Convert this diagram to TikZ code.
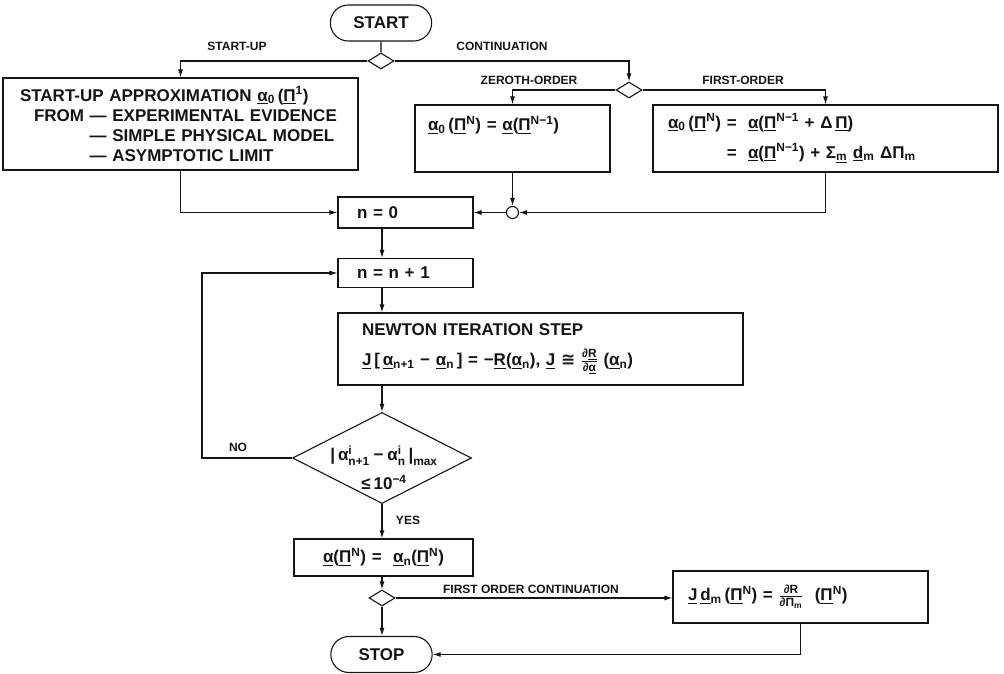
\documentclass[tikz,border=0pt]{standalone}
\usepackage{amsmath}
\usepackage{fontspec}
\setmainfont{Liberation Sans}
\newfontfamily\relfont{DejaVu Sans}
\usetikzlibrary{arrows.meta, shapes.geometric, shapes.misc, calc}
\definecolor{fcInk}{HTML}{141414}
\newcommand{\ua}{\underline{α}}
\newcommand{\uP}{\underline{Π}}
\newcommand{\lo}[1]{\textsubscript{#1}}
\newcommand{\hi}[1]{\textsuperscript{#1}}
\newcommand{\boxfont}{\fontsize{17}{20}\selectfont\bfseries}
\tikzset{
  fcbox/.style={
    draw=fcInk, line width=1.1pt, inner ysep=0pt, align=left,
    font=\boxfont, text=fcInk
  },
  fcpill/.style={rounded rectangle, draw=fcInk, line width=1.1pt,
    minimum width=108pt, minimum height=36pt, font=\boxfont, text=fcInk},
  fcsplit/.style={diamond, draw=fcInk, line width=1.1pt, inner sep=0pt,
    minimum width=26pt, minimum height=16pt},
  fcdecide/.style={diamond, draw=fcInk, line width=1.1pt, inner sep=0pt,
    minimum width=179pt, minimum height=91pt},
  fcjoin/.style={circle, draw=fcInk, line width=1.1pt, inner sep=0pt,
    minimum size=12pt},
  fctext/.style={font=\boxfont, text=fcInk, align=center, inner sep=0pt},
  flow/.style={-{Latex[length=8pt, width=5pt]}, line width=1.1pt, draw=fcInk},
  link/.style={line width=1.1pt, draw=fcInk},
  lbl/.style={font=\fontsize{12}{14}\selectfont\bfseries, text=fcInk, inner sep=1pt},
}

\begin{document}
\begin{tikzpicture}[x=1pt, y=-1pt]
  \useasboundingbox (0,0) rectangle (1004,674);
  \coordinate (axis) at (382,0);

  \node[fcpill] (start) at (381,23) {START};
  \node[fcsplit] (split1) at (381,61) {};
  \node[fcbox, inner xsep=17pt, text width=321pt, minimum height=92pt] (startup) at (180.5,124)
    {START-UP APPROXIMATION \ua\lo{0}\,(\uP\hi{1})\\
     \hspace*{14pt}FROM — EXPERIMENTAL EVIDENCE\\
     \hspace*{14pt}\phantom{FROM }— SIMPLE PHYSICAL MODEL\\
     \hspace*{14pt}\phantom{FROM }— ASYMPTOTIC LIMIT};
  \node[fcsplit] (split2) at (629,90) {};
  \node[fcbox, inner xsep=13pt, text width=169pt, minimum height=67pt,
        font=\fontsize{17}{30}\selectfont\bfseries] (zero) at (512.5,138.5)
    {\ua\lo{0}\,(\uP\hi{N}) = \ua(\uP\hi{N−1})\\\mbox{}};
  \node[fcbox, inner xsep=15pt, text width=315pt, minimum height=67pt,
        font=\fontsize{17}{30}\selectfont\bfseries] (first) at (825.5,138.5)
    {\ua\lo{0}\,(\uP\hi{N}) =\ \ \ua(\uP\hi{N−1} + Δ\,\uP)\\
     \phantom{\ua\lo{0}\,(\uP\hi{N})} =\ \ \ua(\uP\hi{N−1}) + \(\mathop{\text{Σ}}\nolimits_{\text{\underline{m}}}\)\ \underline{d}\lo{m} ΔΠ\lo{m}};
  \node[fcjoin] (merge) at (512.5,212.5) {};

  \node[fcbox, inner xsep=19pt, text width=97pt, minimum height=31pt] (n0) at (405.5,212.5) {n = 0};
  \node[fcbox, inner xsep=19pt, text width=97pt, minimum height=29pt] (n1) at (405.5,273) {n = n + 1};
  \node[fcbox, inner xsep=24pt, text width=357pt, minimum height=72pt,
        font=\fontsize{17}{30}\selectfont\bfseries] (newton) at (540.5,349)
    {NEWTON ITERATION STEP\\
     \underline{J}\,[\,\ua\lo{n+1} − \ua\lo{n}\,] = −\underline{R}(\ua\lo{n}),\ \underline{J} {\relfont ≅} \(\frac{\text{∂\underline{R}}}{\text{∂\ua}}\) (\ua\lo{n})};
  \node[fcdecide] (check) at (382,458) {};
  \node[fctext] (checktxt) at (384,468)
    {\(\text{|}\,\text{α}^{\text{i}}_{\text{n+1}} \mathbin{\text{−}} \text{α}^{\text{i}}_{\text{n}}\,\text{|}_{\text{max}}\)\\[9pt]
     ≤\,10\hi{−4}};
  \node[fcbox, align=center, text width=159pt, inner xsep=10pt, minimum height=37pt] (result) at (383.5,557.5)
    {\ua(\uP\hi{N}) =\ \ \ua\lo{n}(\uP\hi{N})};
  \node[fcsplit] (split3) at (382,598) {};
  \node[fcbox, inner xsep=15pt, text width=225pt, minimum height=52pt] (deriv) at (800.5,597)
    {\underline{J}\,\underline{d}\lo{m}\,(\uP\hi{N}) =\ \(\frac{\text{∂R}}{\text{∂Π}_{\text{m}}}\)\ \ (\uP\hi{N})};
  \node[fcpill] (stop) at (381.5,654.5) {STOP};

  \node[lbl] (lstartup) at (237,46) {START-UP};
  \node[lbl] (lcont) at (502,46) {CONTINUATION};
  \node[lbl] (lzero) at (529,80) {ZEROTH-ORDER};
  \node[lbl] (lfirst) at (743,80) {FIRST-ORDER};
  \node[lbl] (lno) at (238,447) {NO};
  \node[lbl] (lyes) at (408,520) {YES};
  \node[lbl] (lfoc) at (531,589) {FIRST ORDER CONTINUATION};

  \draw[link] (start) -- (split1);
  \draw[flow] (split1.west) -| (startup.north);
  \draw[flow] (split1.east) -| (split2.north);
  \draw[flow] (split2.west) -| (zero.north);
  \draw[flow] (split2.east) -| (first.north);
  \draw[flow] (zero.south) -- (merge.north);
  \draw[flow] (first.south) |- (merge.east);
  \draw[flow] (merge.west) -- (n0.east);
  \draw[flow] (startup.south) |- (n0.west);
  \draw[flow] (n0.south -| axis) -- (n1.north -| axis);
  \draw[flow] (n1.south -| axis) -- (newton.north -| axis);
  \draw[flow] (newton.south -| axis) -- (check.north);
  \draw[flow] (check.west) -- ++(-90,0) |- (n1.west);
  \draw[flow] (check.south) -- (result.north -| axis);
  \draw[flow] (result.south -| axis) -- (split3.north);
  \draw[flow] (split3.east) -- (split3.east -| deriv.west);
  \draw[flow] (split3.south) -- (stop.north -| axis);
  \draw[flow] (deriv.south) |- (stop.east);
\end{tikzpicture}
\end{document}
